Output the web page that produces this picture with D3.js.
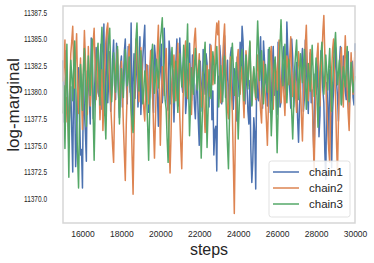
<!DOCTYPE html>
<html><head><meta charset="utf-8">
<script src="https://cdn.jsdelivr.net/npm/d3@7"></script>
<style>body{margin:0;background:#fff}svg{display:block}text{font-family:"Liberation Sans",Arial,sans-serif;fill:#262626}</style>
</head><body>
<script>
// values read at steps 15000,15100,...,30000
const stepStart = 15000, stepInc = 100;
// values read at steps 15050,15150,...,29950
const midStart = 15050;
const seriesNames = ["chain1","chain2","chain3"];
const chain1 = [11383.0,11378.5,11381.2,11376.0,11380.5,11372.5,11379.8,11375.4,11382.3,11374.1,11371.0,11378.2,11373.5,11380.9,11377.0,11383.6,11379.1,11384.2,11380.0,11382.7,11378.4,11386.4,11381.5,11379.0,11383.8,11380.2,11384.9,11379.3,11382.1,11377.6,11383.4,11380.7,11385.0,11378.9,11382.6,11386.5,11381.0,11379.4,11384.1,11380.3,11377.9,11383.2,11386.3,11380.8,11378.1,11382.9,11379.5,11384.4,11381.2,11376.8,11382.0,11379.0,11386.0,11381.6,11378.3,11383.7,11380.4,11377.2,11382.8,11379.7,11385.1,11380.9,11383.3,11378.0,11381.9,11384.6,11379.2,11382.4,11377.5,11381.3,11375.0,11380.6,11384.0,11379.8,11382.7,11378.6,11383.9,11380.1,11376.4,11372.6,11379.4,11383.1,11380.0,11385.3,11381.4,11378.8,11383.5,11379.9,11382.2,11377.3,11381.8,11384.7,11386.2,11380.5,11383.0,11378.2,11381.1,11371.5,11377.6,11370.9,11379.6,11383.4,11380.2,11384.8,11381.0,11378.7,11382.9,11379.3,11384.3,11380.8,11377.9,11382.5,11379.1,11383.6,11380.4,11386.6,11381.7,11378.5,11383.2,11380.0,11382.8,11375.3,11380.6,11384.1,11379.4,11382.3,11378.0,11383.7,11380.2,11373.4,11379.8,11383.0,11377.8,11382.6,11379.0,11371.8,11378.4,11382.1,11372.9,11380.3,11384.2,11379.6,11382.7,11378.9,11383.4,11380.1,11382.9,11378.3,11381.6,11379.5,11384.6];
const chain1Mid = [11377.2,11383.9,11379.0,11378.6,11376.3,11381.4,11373.0,11380.1,11377.8,11374.6,11381.7,11376.2,11382.0,11379.4,11385.1,11377.5,11381.8,11383.0,11379.6,11384.5,11380.7,11377.8,11385.6,11381.2,11378.2,11383.1,11380.6,11384.6,11379.9,11382.4,11378.6,11383.8,11381.1,11384.3,11380.0,11377.4,11383.6,11381.9,11378.6,11385.2,11380.6,11384.8,11379.3,11382.5,11380.2,11384.0,11378.1,11383.2,11379.8,11381.0,11384.5,11380.3,11382.7,11379.1,11384.8,11378.9,11382.1,11380.5,11385.0,11378.7,11382.6,11380.0,11383.9,11379.4,11382.8,11380.8,11383.5,11378.9,11380.6,11377.3,11382.9,11378.2,11381.5,11383.6,11380.0,11384.5,11377.4,11374.1,11376.8,11381.5,11384.4,11378.9,11382.6,11379.5,11383.0,11380.3,11384.2,11378.4,11380.6,11383.3,11379.6,11382.0,11384.8,11378.9,11380.7,11377.0,11374.6,11373.5,11376.2,11381.8,11379.2,11385.2,11378.5,11383.0,11380.6,11384.0,11378.1,11382.5,11379.7,11381.4,11384.7,11378.6,11382.0,11384.3,11379.6,11383.8,11380.2,11385.0,11378.6,11381.5,11377.6,11378.7,11382.6,11378.2,11384.9,11380.4,11381.6,11379.0,11376.8,11381.7,11380.7,11375.8,11383.9,11380.2,11374.4,11380.9,11375.0,11380.4,11378.2,11382.3,11381.0,11377.3,11384.3,11380.6,11381.4,11379.3,11383.8,11380.4,11382.9,11378.8];
const chain2 = [11381.0,11384.9,11379.5,11374.8,11383.6,11386.2,11380.4,11385.5,11378.0,11383.2,11376.5,11385.8,11380.9,11384.3,11378.7,11382.5,11386.0,11379.3,11383.8,11377.4,11382.1,11379.0,11384.7,11386.5,11380.6,11376.9,11373.4,11381.8,11384.0,11378.5,11382.9,11377.0,11371.7,11380.2,11384.5,11378.3,11370.4,11381.4,11383.7,11379.1,11384.2,11380.0,11377.3,11382.6,11378.9,11383.9,11380.5,11373.8,11381.2,11386.3,11375.0,11382.4,11379.7,11384.1,11378.2,11372.4,11380.8,11383.5,11379.2,11384.6,11377.7,11372.8,11381.6,11384.8,11379.4,11382.7,11377.9,11383.0,11386.0,11380.3,11383.6,11378.6,11381.9,11376.2,11382.5,11379.6,11384.4,11380.7,11383.1,11386.5,11386.7,11379.0,11382.8,11386.4,11380.1,11377.5,11383.3,11378.0,11368.6,11380.9,11384.0,11379.8,11382.4,11377.6,11383.9,11380.6,11384.7,11378.8,11382.2,11379.3,11383.5,11380.0,11377.1,11382.9,11379.5,11375.0,11381.7,11384.3,11378.4,11383.0,11380.2,11384.9,11379.0,11382.6,11377.8,11383.4,11380.7,11385.2,11379.6,11382.0,11378.1,11383.8,11380.4,11375.4,11382.3,11386.3,11379.2,11384.0,11380.0,11372.6,11381.5,11384.6,11378.7,11383.2,11387.2,11380.9,11376.7,11373.4,11382.1,11385.0,11379.4,11372.2,11381.3,11384.2,11378.6,11385.3,11380.1,11376.4,11383.7,11379.8,11383.9];
const chain2Mid = [11382.7,11377.2,11378.0,11380.6,11384.8,11382.3,11383.4,11380.5,11381.0,11379.7,11382.4,11383.2,11377.9,11381.6,11380.5,11384.7,11382.4,11381.0,11380.6,11379.8,11376.4,11382.6,11385.9,11383.2,11378.8,11374.9,11378.6,11383.0,11381.2,11380.6,11380.4,11374.3,11376.9,11382.9,11381.2,11374.0,11376.2,11385.0,11380.8,11382.5,11382.6,11378.4,11380.4,11380.5,11381.8,11382.6,11376.7,11377.4,11384.2,11380.8,11378.9,11381.0,11382.3,11380.7,11375.3,11376.0,11382.5,11381.0,11382.4,11380.8,11375.0,11377.6,11383.8,11381.7,11381.0,11380.1,11380.9,11385.0,11383.5,11382.1,11380.9,11380.0,11378.4,11379.8,11381.2,11382.6,11383.0,11382.0,11385.2,11385.4,11382.3,11380.6,11385.0,11382.9,11378.3,11380.9,11380.2,11373.5,11375.6,11383.0,11381.4,11381.5,11379.6,11381.5,11382.5,11383.0,11380.6,11381.0,11380.4,11381.8,11381.4,11378.3,11380.5,11381.0,11377.2,11378.6,11383.4,11380.9,11381.2,11382.0,11383.1,11381.5,11380.4,11379.6,11381.1,11382.6,11383.4,11381.8,11380.3,11379.7,11381.4,11382.5,11377.6,11379.2,11384.6,11382.5,11381.3,11381.7,11375.9,11377.4,11383.4,11380.9,11381.5,11385.7,11383.6,11378.4,11374.6,11378.2,11384.0,11381.9,11375.3,11377.4,11383.1,11380.9,11382.4,11382.9,11378.0,11380.4,11381.5,11382.0];
const chain3 = [11378.0,11374.7,11384.5,11372.0,11383.0,11379.2,11384.8,11377.5,11371.0,11382.6,11378.3,11384.1,11376.8,11383.4,11379.7,11385.0,11373.6,11381.9,11384.6,11378.8,11386.1,11380.3,11375.6,11382.8,11386.0,11379.1,11383.7,11380.0,11384.3,11377.0,11382.2,11379.5,11384.0,11380.6,11383.3,11378.5,11376.2,11382.7,11386.5,11380.1,11383.9,11378.9,11382.0,11379.3,11373.6,11381.4,11384.5,11379.9,11383.1,11380.4,11384.9,11387.0,11381.0,11378.4,11373.4,11380.7,11384.2,11379.0,11382.9,11378.1,11383.6,11380.5,11384.4,11379.6,11386.4,11375.9,11382.3,11379.8,11384.1,11380.2,11383.0,11373.8,11381.5,11384.7,11374.8,11382.1,11379.4,11383.8,11380.8,11384.3,11378.6,11382.5,11379.1,11383.4,11377.8,11372.8,11381.2,11384.6,11379.7,11382.8,11375.6,11381.9,11384.0,11379.2,11383.5,11380.3,11384.8,11378.7,11382.4,11379.5,11386.7,11381.1,11383.9,11378.9,11382.6,11380.0,11384.2,11375.9,11381.7,11383.3,11374.3,11382.0,11386.8,11380.6,11384.5,11379.0,11383.1,11380.4,11375.6,11382.2,11384.9,11379.3,11383.6,11380.9,11384.0,11378.4,11382.7,11380.1,11384.4,11379.6,11383.2,11376.7,11381.8,11384.7,11379.8,11383.5,11380.2,11384.1,11378.2,11382.9,11385.6,11380.7,11383.0,11378.8,11382.4,11380.5,11384.3,11379.1,11382.8,11380.0,11381.5];
const chain3Mid = [11380.6,11380.2,11377.8,11379.4,11381.6,11382.3,11381.0,11373.8,11377.6,11380.9,11382.0,11380.6,11380.7,11381.3,11383.2,11377.8,11378.4,11383.5,11381.4,11384.0,11383.5,11377.8,11379.9,11385.0,11382.3,11381.4,11382.0,11381.8,11380.2,11379.5,11381.0,11381.8,11382.5,11381.4,11380.7,11377.0,11379.6,11385.0,11383.2,11381.8,11380.9,11380.2,11381.0,11376.8,11378.0,11383.2,11382.0,11381.3,11382.0,11383.1,11385.8,11383.6,11379.2,11375.6,11377.0,11382.6,11381.4,11381.2,11380.0,11381.4,11382.1,11382.2,11382.0,11383.5,11380.7,11378.7,11381.0,11382.3,11382.0,11381.7,11378.0,11377.4,11383.2,11379.6,11378.1,11380.6,11381.8,11382.5,11382.7,11381.4,11380.7,11381.0,11381.5,11380.5,11375.0,11377.4,11383.0,11382.4,11381.0,11379.3,11378.5,11383.2,11381.5,11381.6,11382.0,11382.6,11381.6,11380.5,11381.0,11383.5,11384.0,11382.4,11381.5,11380.6,11381.4,11382.2,11379.8,11378.3,11382.6,11378.6,11378.0,11384.5,11383.9,11382.7,11381.6,11381.0,11381.9,11378.0,11378.6,11383.6,11382.0,11381.6,11382.4,11382.5,11381.2,11380.5,11381.5,11382.3,11381.9,11381.3,11379.5,11379.0,11383.4,11382.3,11381.6,11381.9,11382.3,11381.0,11380.5,11384.3,11383.2,11381.8,11380.9,11380.5,11381.5,11382.4,11381.7,11380.9,11381.4,11380.7];
const xTicks = [16000,18000,20000,22000,24000,26000,28000,30000];
const yTicks = [11370,11372.5,11375,11377.5,11380,11382.5,11385,11387.5];
const colors = ["#4C72B0","#DD8452","#55A868"];

const W=374,H=263, L=63,R=355,T=6,B=223;
const svg=d3.select("body").append("svg").attr("width",W).attr("height",H);
const x=d3.scaleLinear().domain([15000,30000]).range([L,R]);
const y=d3.scaleLinear().domain([11367.7,11388.1]).range([B,T]);

function merge(a, m){
  const pts = a.map((v,i)=>({s:stepStart+i*stepInc, v}))
    .concat(m.map((v,i)=>({s:midStart+i*stepInc, v})));
  return pts.sort((p,q)=>p.s-q.s);
}
const all=[merge(chain1,chain1Mid),merge(chain2,chain2Mid),merge(chain3,chain3Mid)];
const line=d3.line().x(d=>x(d.s)).y(d=>y(d.v));
all.forEach((s,k)=>{
  svg.append("path").attr("d",line(s)).attr("fill","none").attr("stroke",colors[k]).attr("stroke-width",1.5).attr("stroke-linejoin","round");
});
// frame
svg.append("rect").attr("x",L).attr("y",T).attr("width",R-L).attr("height",B-T).attr("fill","none").attr("stroke","#d6d6d6").attr("stroke-width",1.5);

// axes
const xa=svg.append("g").attr("transform",`translate(0,${B})`).call(d3.axisBottom(x).tickValues(xTicks).tickSize(0).tickPadding(8).tickFormat(d3.format("d")));
xa.select(".domain").remove();
xa.selectAll("text").attr("font-size",8.5).attr("fill","#262626").style("font-family","Liberation Sans, Arial, sans-serif");
const ya=svg.append("g").attr("transform",`translate(${L},0)`).call(d3.axisLeft(y).tickValues(yTicks).tickSize(0).tickPadding(16).tickFormat(d3.format(".1f")));
ya.select(".domain").remove();
ya.selectAll("text").attr("font-size",8.5).attr("fill","#262626").attr("textLength",23).attr("lengthAdjust","spacingAndGlyphs").style("font-family","Liberation Sans, Arial, sans-serif");

svg.append("text").attr("x",(L+R)/2).attr("y",255).attr("text-anchor","middle").attr("font-size",16).text("steps");
svg.append("text").attr("transform","translate(19,105) rotate(-90)").attr("text-anchor","middle").attr("font-size",17).text("log-marginal");

// legend
const lg=svg.append("g");
lg.append("rect").attr("x",269).attr("y",161).attr("width",81).attr("height",56).attr("rx",2.5).attr("fill","#fff").attr("fill-opacity",0.85).attr("stroke","#d9d9d9").attr("stroke-width",0.8);
seriesNames.forEach((n,k)=>{
  const yy=172+k*16;
  lg.append("line").attr("x1",273).attr("x2",299).attr("y1",yy).attr("y2",yy).attr("stroke",colors[k]).attr("stroke-width",1.5);
  lg.append("text").attr("x",309).attr("y",yy+4).attr("font-size",11.5).text(n);
});
</script>
</body></html>
